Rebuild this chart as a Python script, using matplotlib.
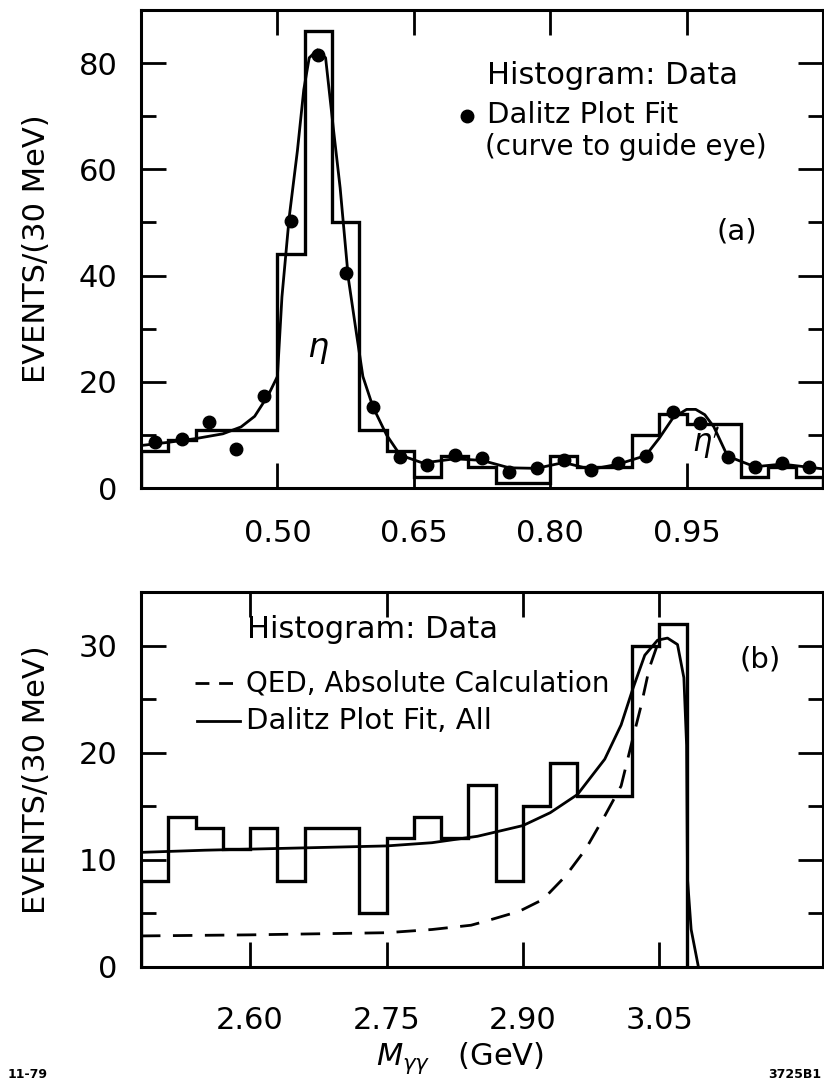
import numpy as np
import matplotlib
matplotlib.use("Agg")
import matplotlib.pyplot as plt

# ---------------- data: panel (a) ----------------
a_edge_start = 0.35
a_bin_width = 0.03
a_hist = [7, 9, 11, 11, 11, 44, 86, 50, 11, 7, 2, 6, 4, 1, 1, 6, 4, 4, 10, 14, 12, 12, 2, 4, 2]
a_pts_x = [0.365, 0.395, 0.425, 0.455, 0.485, 0.515, 0.545, 0.575, 0.605, 0.635, 0.665, 0.695,
           0.725, 0.755, 0.785, 0.815, 0.845, 0.875, 0.905, 0.935, 0.965, 0.995, 1.025, 1.055, 1.085]
a_pts_y = [8.7, 9.3, 12.4, 7.4, 17.4, 50.2, 81.5, 40.4, 15.3, 5.8, 4.3, 6.2,
           5.6, 3.0, 3.8, 5.3, 3.4, 4.7, 6.1, 14.3, 12.2, 5.9, 4.0, 4.7, 3.9]
a_curve_x = [0.35, 0.38, 0.41, 0.44, 0.46, 0.475, 0.49, 0.50, 0.505, 0.513, 0.522, 0.529, 0.535,
             0.544, 0.553, 0.562, 0.569, 0.578, 0.587, 0.594, 0.605, 0.62, 0.635, 0.66, 0.695,
             0.725, 0.755, 0.785, 0.815, 0.845, 0.875, 0.905, 0.92, 0.935, 0.95, 0.96, 0.97,
             0.98, 0.995, 1.025, 1.055, 1.085, 1.10]
a_curve_y = [8.0, 8.6, 9.3, 10.2, 11.5, 13.5, 17.5, 21, 36, 51, 63.5, 75, 81,
             82.5, 81, 67, 56.5, 39.5, 29, 21, 15.3, 10, 6.2, 4.7, 5.5,
             5.2, 3.8, 3.7, 4.8, 3.5, 4.5, 6.1, 9.4, 13.2, 14.8, 14.8, 13.8,
             11.5, 6.0, 4.0, 4.5, 3.9, 3.6]
a_xticks = [0.50, 0.65, 0.80, 0.95]
a_xticklabels = ["0.50", "0.65", "0.80", "0.95"]
a_yticks = [0, 20, 40, 60, 80]

# ---------------- data: panel (b) ----------------
b_edge_start = 2.48
b_bin_width = 0.03
b_hist = [8, 14, 13, 11, 13, 8, 13, 13, 5, 12, 14, 12, 17, 8, 15, 19, 16, 16, 30, 32]
b_fit_x = [2.48, 2.55, 2.60, 2.65, 2.70, 2.75, 2.80, 2.85, 2.90, 2.93, 2.96, 2.99, 3.008,
           3.021, 3.034, 3.048, 3.059, 3.07, 3.077, 3.08, 3.081, 3.085, 3.093]
b_fit_y = [10.7, 10.9, 11.0, 11.1, 11.2, 11.3, 11.6, 12.2, 13.2, 14.4, 16.1, 19.4, 22.6,
           26, 29.1, 30.5, 30.7, 30.1, 27, 20.7, 8.2, 3.5, 0]
b_qed_x = [2.48, 2.60, 2.75, 2.80, 2.843, 2.86, 2.896, 2.922, 2.947, 2.969, 2.99, 3.008,
           3.019, 3.03, 3.039, 3.048, 3.055]
b_qed_y = [2.9, 3.0, 3.2, 3.5, 3.9, 4.3, 5.2, 6.3, 8.5, 11, 14.1, 16.9,
           20.7, 24.4, 27.9, 30.1, 30.5]
b_xticks = [2.60, 2.75, 2.90, 3.05]
b_xticklabels = ["2.60", "2.75", "2.90", "3.05"]
b_yticks = [0, 10, 20, 30]

plt.rcParams['font.family'] = ['DejaVu Sans']
LW = 2.4
fig = plt.figure(figsize=(8.24, 10.86), dpi=100)

W, H = 824.0, 1086.0
ax1 = fig.add_axes([141 / W, 1 - 488 / H, 682 / W, 478 / H])
ax2 = fig.add_axes([141 / W, 1 - 967 / H, 682 / W, 375 / H])

def style(ax):
    for s in ax.spines.values():
        s.set_linewidth(2.2)
    ax.tick_params(which='both', direction='in', top=True, right=True, width=2.0,
                   labelsize=22, colors='black')
    ax.tick_params(which='major', length=18)
    ax.tick_params(which='minor', length=11)
    ax.tick_params(axis='y', which='both', pad=17)

# ---- panel (a)
a_edges = a_edge_start + a_bin_width * np.arange(len(a_hist) + 1)
ax1.stairs(a_hist, a_edges, baseline=0, color='black', lw=LW)
ax1.plot(a_curve_x, a_curve_y, color='black', lw=2.0)
ax1.plot(a_pts_x, a_pts_y, 'o', color='black', ms=9)
ax1.set_xlim(0.35, 1.10)
ax1.set_ylim(0, 90)
ax1.set_xticks(a_xticks)
ax1.set_xticklabels(a_xticklabels)
ax1.set_yticks(a_yticks)
ax1.set_yticks([10, 30, 50, 70], minor=True)
style(ax1)
ax1.tick_params(axis='x', pad=22)
ax1.set_ylabel("EVENTS/(30 MeV)", fontsize=22, labelpad=20)

ax1.text(0.507, 0.864, "Histogram: Data", transform=ax1.transAxes, fontsize=22,
         ha='left', va='center')
ax1.plot([0.478], [0.778], 'o', color='black', ms=9, transform=ax1.transAxes)
ax1.text(0.507, 0.780, "Dalitz Plot Fit", transform=ax1.transAxes, fontsize=21,
         ha='left', va='center')
ax1.text(0.505, 0.713, "(curve to guide eye)", transform=ax1.transAxes, fontsize=20,
         ha='left', va='center')
ax1.text(0.874, 0.536, "(a)", transform=ax1.transAxes, fontsize=21, ha='center', va='center')
ax1.text(0.545, 26, r"$\eta$", fontsize=24, ha='center', va='center')
ax1.text(0.972, 8.5, r"$\eta'$", fontsize=22, ha='center', va='center')

# ---- panel (b)
b_edges = b_edge_start + b_bin_width * np.arange(len(b_hist) + 1)
ax2.stairs(b_hist, b_edges, baseline=0, color='black', lw=LW)
ax2.plot(b_fit_x, b_fit_y, color='black', lw=2.0)
ax2.plot(b_qed_x, b_qed_y, color='black', lw=2.0, dashes=(7, 4.5))
ax2.set_xlim(2.48, 3.23)
ax2.set_ylim(0, 35)
ax2.set_xticks(b_xticks)
ax2.set_xticklabels(b_xticklabels)
ax2.set_yticks(b_yticks)
ax2.set_yticks([5, 15, 25], minor=True)
style(ax2)
ax2.tick_params(axis='x', pad=28)
ax2.set_ylabel("EVENTS/(30 MeV)", fontsize=22, labelpad=20)

ax2.text(0.155, 0.899, "Histogram: Data", transform=ax2.transAxes, fontsize=22,
         ha='left', va='center')
ax2.plot([0.079, 0.145], [0.757, 0.757], color='black', lw=2.0, dashes=(5, 3.5),
         transform=ax2.transAxes)
ax2.text(0.154, 0.757, "QED, Absolute Calculation", transform=ax2.transAxes, fontsize=20,
         ha='left', va='center')
ax2.plot([0.082, 0.145], [0.656, 0.656], color='black', lw=2.0, transform=ax2.transAxes)
ax2.text(0.154, 0.656, "Dalitz Plot Fit, All", transform=ax2.transAxes, fontsize=21,
         ha='left', va='center')
ax2.text(0.908, 0.819, "(b)", transform=ax2.transAxes, fontsize=21, ha='center', va='center')

fig.text(460 / W, 1 - 1058 / H, r"$M_{\gamma\gamma}$   (GeV)", fontsize=22,
         ha='center', va='center')
fig.text(8 / W, 1 - 1075 / H, "11-79", fontsize=9, fontweight='bold', ha='left', va='center')
fig.text(821 / W, 1 - 1075 / H, "3725B1", fontsize=9, fontweight='bold', ha='right', va='center')

fig.savefig("out.png", dpi=100)
